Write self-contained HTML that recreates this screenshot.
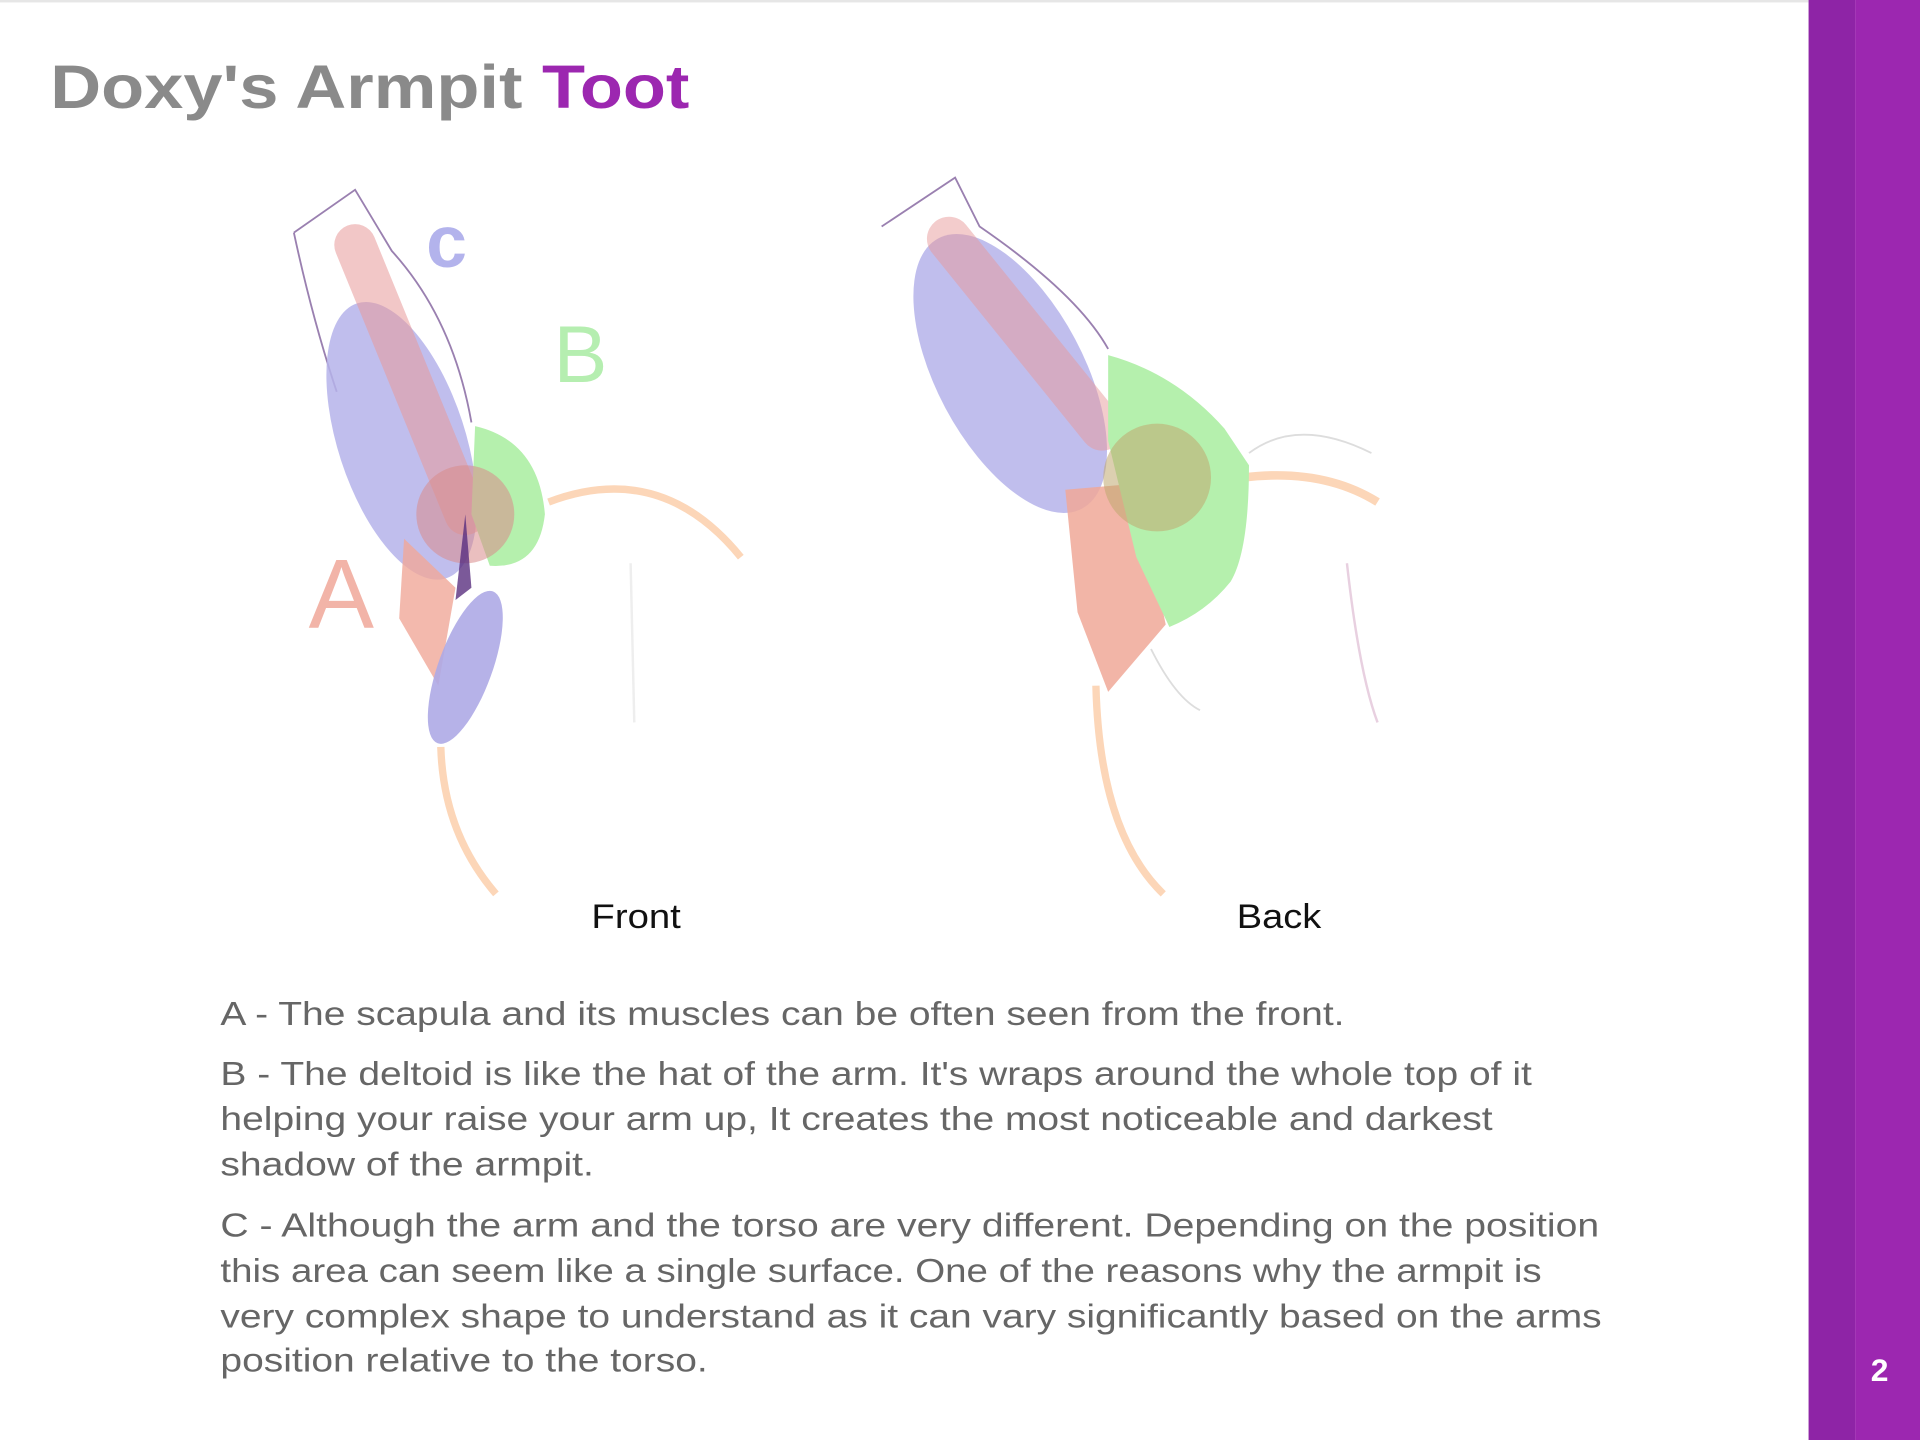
<!DOCTYPE html>
<html><head><meta charset="utf-8"><style>
html,body{margin:0;padding:0;background:#fff;}
svg{display:block;}
</style></head><body>
<svg width="1920" height="1440" viewBox="0 0 1568 1176" xmlns="http://www.w3.org/2000/svg">
<rect x="0" y="0" width="1568" height="1176" fill="#fff"/>
<rect x="0" y="0" width="1477" height="2" fill="#e6e6e6"/>
<rect x="1477" y="0" width="38" height="1176" fill="#8e24a6"/>
<rect x="1515" y="0" width="53" height="1176" fill="#9c27b0"/>
<text x="1535" y="1128" font-family="Liberation Sans, sans-serif" font-weight="bold" font-size="26" fill="#fff" text-anchor="middle">2</text>
<text x="41" y="88" font-family="Liberation Sans, sans-serif" font-weight="bold" font-size="50" fill="#8a8a8a" textLength="522" lengthAdjust="spacingAndGlyphs">Doxy's Armpit <tspan fill="#9c27b0">Toot</tspan></text>

<!-- FRONT -->
<g>
<path d="M360,610 Q362,680 405,730" stroke="#fcd6b8" stroke-width="6" fill="none"/>
<path d="M448,410 Q540,375 605,455" stroke="#fcd6b8" stroke-width="6" fill="none"/>
<path d="M240,190 L290,155 L320,205 Q370,260 385,345" stroke="#9a80b0" stroke-width="1.5" fill="none"/>
<path d="M240,190 Q255,260 275,320" stroke="#9a80b0" stroke-width="1.5" fill="none"/>
<ellipse cx="328" cy="360" rx="52" ry="118" transform="rotate(-18 328 360)" fill="#b5b3ea" opacity="0.85"/>
<path d="M290,200 L380,420" stroke="#e89a9a" stroke-width="34" stroke-linecap="round" opacity="0.55"/>
<path d="M388,348 Q440,360 445,420 Q440,465 400,462 L385,420 Z" fill="#b5f0ad"/>
<circle cx="380" cy="420" r="40" fill="#d88a8a" opacity="0.55"/>
<path d="M330,440 L372,480 L358,560 L326,505 Z" fill="#f0a898" opacity="0.8"/>
<ellipse cx="380" cy="545" rx="22" ry="66" transform="rotate(20 380 545)" fill="#aeaae6" opacity="0.9"/>
<path d="M380,420 L385,480 L372,490 Z" fill="#5a3080" opacity="0.8"/>
<path d="M515,460 L518,590" stroke="#eee" stroke-width="2"/>
<text x="348" y="218" font-family="Liberation Sans, sans-serif" font-weight="bold" font-size="60" fill="#b3b3ec">c</text>
<text x="452" y="312" font-family="Liberation Sans, sans-serif" font-size="66" fill="#b5eeb0">B</text>
<text x="252" y="513" font-family="Liberation Sans, sans-serif" font-size="80" fill="#f2b4a8">A</text>
</g>

<!-- BACK -->
<g>
<path d="M895,560 Q898,680 950,730" stroke="#fcd6b8" stroke-width="6" fill="none"/>
<path d="M1015,390 Q1080,382 1125,410" stroke="#fcd6b8" stroke-width="7" fill="none"/>
<path d="M720,185 L780,145 L800,185 Q880,240 905,285" stroke="#9a80b0" stroke-width="1.5" fill="none"/>
<path d="M1020,370 Q1060,340 1120,370" stroke="#ddd" stroke-width="1.5" fill="none"/>
<path d="M1100,460 Q1110,550 1125,590" stroke="#e8d0e0" stroke-width="2" fill="none"/>
<path d="M940,530 Q960,570 980,580" stroke="#ddd" stroke-width="1.5" fill="none"/>
<ellipse cx="825" cy="305" rx="60" ry="125" transform="rotate(-28 825 305)" fill="#b5b3ea" opacity="0.85"/>
<path d="M775,195 L900,350" stroke="#e89a9a" stroke-width="36" stroke-linecap="round" opacity="0.5"/>
<path d="M870,400 L928,395 L952,510 L905,565 L880,500 Z" fill="#f0a898" opacity="0.85"/>
<path d="M905,290 Q960,305 1000,350 L1020,380 Q1020,450 1005,475 Q985,500 955,512 L928,455 L905,360 Z" fill="#b5f0ad"/>
<circle cx="945" cy="390" r="44" fill="#c0a870" opacity="0.55"/>
</g>

<text x="483" y="758" font-family="Liberation Sans, sans-serif" font-size="28" fill="#111" textLength="73" lengthAdjust="spacingAndGlyphs">Front</text>
<text x="1010" y="758" font-family="Liberation Sans, sans-serif" font-size="28" fill="#111" textLength="69" lengthAdjust="spacingAndGlyphs">Back</text>

<g font-family="Liberation Sans, sans-serif" font-size="27" fill="#666" lengthAdjust="spacingAndGlyphs">
<text x="180" y="837" textLength="918" lengthAdjust="spacingAndGlyphs">A - The scapula and its muscles can be often seen from the front.</text>
<text x="180" y="886" textLength="1071" lengthAdjust="spacingAndGlyphs">B - The deltoid is like the hat of the arm. It's wraps around the whole top of it</text>
<text x="180" y="923" textLength="1039" lengthAdjust="spacingAndGlyphs">helping your raise your arm up, It creates the most noticeable and darkest</text>
<text x="180" y="960" textLength="305" lengthAdjust="spacingAndGlyphs">shadow of the armpit.</text>
<text x="180" y="1010" textLength="1126" lengthAdjust="spacingAndGlyphs">C - Although the arm and the torso are very different. Depending on the position</text>
<text x="180" y="1047" textLength="1079" lengthAdjust="spacingAndGlyphs">this area can seem like a single surface. One of the reasons why the armpit is</text>
<text x="180" y="1084" textLength="1128" lengthAdjust="spacingAndGlyphs">very complex shape to understand as it can vary significantly based on the arms</text>
<text x="180" y="1120" textLength="398" lengthAdjust="spacingAndGlyphs">position relative to the torso.</text>
</g>
</svg>
</body></html>
